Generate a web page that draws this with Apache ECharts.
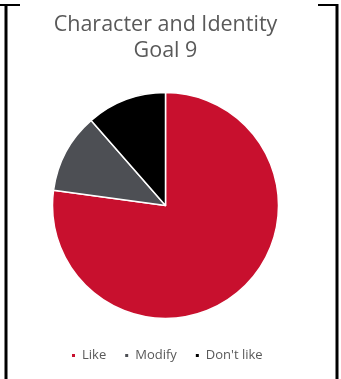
<!DOCTYPE html>
<html>
<head>
<meta charset="utf-8">
<script src="https://cdn.jsdelivr.net/npm/echarts@6/dist/echarts.min.js"></script>
<style>
  html, body { margin: 0; padding: 0; background: #fff; }
  #chart { width: 341px; height: 379px; }
</style>
</head>
<body>
<div id="chart"></div>
<script>
// Responses for goal 9
const categories = ['Like', 'Modify', "Don't like"];
const counts = [27, 4, 4];
const colors = ['#C8102E', '#4D4F54', '#000000'];

const chart = echarts.init(document.getElementById('chart'), null, { renderer: 'canvas' });

const textColor = '#595959';
const fontFamily = '"Open Sans", "Liberation Sans", sans-serif';

chart.setOption({
  animation: false,
  color: colors,
  graphic: [
    // table-cell frame
    { type: 'line', shape: { x1: 6, y1: 4, x2: 6, y2: 379 }, style: { stroke: '#000', lineWidth: 3 } },
    { type: 'line', shape: { x1: 0, y1: 5, x2: 20, y2: 5 }, style: { stroke: '#000', lineWidth: 2 } },
    { type: 'line', shape: { x1: 318, y1: 5, x2: 338, y2: 5 }, style: { stroke: '#000', lineWidth: 2 } },
    { type: 'line', shape: { x1: 337, y1: 4, x2: 337, y2: 379 }, style: { stroke: '#000', lineWidth: 3 } },
    // two-line title, centred over the pie
    {
      type: 'text',
      x: 165.5,
      y: 12,
      style: {
        text: 'Character and Identity\nGoal 9',
        align: 'center',
        verticalAlign: 'top',
        fill: textColor,
        font: '21.5px ' + fontFamily,
        lineHeight: 26
      }
    }
  ],
  legend: {
    top: 344,
    left: 65,
    icon: 'rect',
    itemWidth: 5,
    itemHeight: 5,
    itemGap: 17,
    textStyle: { color: textColor, fontFamily: fontFamily, fontSize: 13, padding: [0, 0, 0, 1] },
    data: categories
  },
  series: [{
    type: 'pie',
    center: [165.5, 205.5],
    radius: 113,
    startAngle: 90,
    clockwise: true,
    label: { show: false },
    labelLine: { show: false },
    itemStyle: { borderColor: '#fff', borderWidth: 1.5 },
    emphasis: { disabled: true },
    data: categories.map((name, i) => ({ name: name, value: counts[i] }))
  }]
});
</script>
</body>
</html>
